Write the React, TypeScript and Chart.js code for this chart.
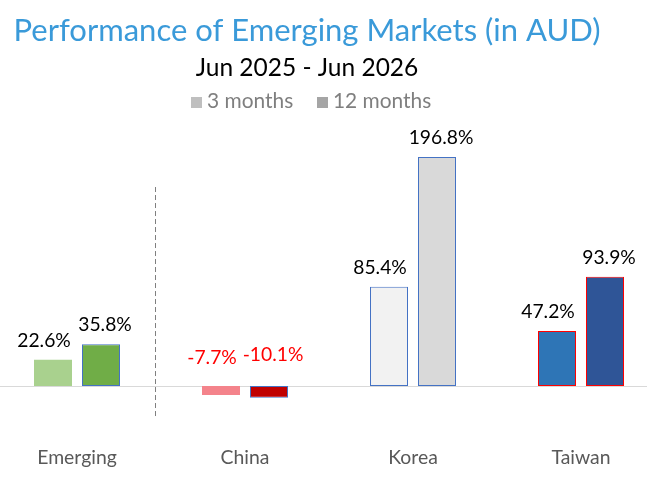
import { useEffect, useRef } from "react";
import { Chart, registerables } from "chart.js";

Chart.register(...registerables);

// Returns over each period, in percent
const categories = ["Emerging", "China", "Korea", "Taiwan"];
const seriesNames = ["3 months", "12 months"];
const threeMonths = [22.6, -7.7, 85.4, 47.2];
const twelveMonths = [35.8, -10.1, 196.8, 93.9];

const chartTitle = "Performance of Emerging Markets (in AUD)";
const chartSubtitle = "Jun 2025 - Jun 2026";

// Per-bar styling
const fill3 = ["#a9d18e", "#f4838b", "#f2f2f2", "#2e75b6"];
const fill12 = ["#70ad47", "#c00000", "#d9d9d9", "#2f5597"];
const edge3 = ["transparent", "transparent", "#4472c4", "#ff0000"];
const edge12 = ["#4472c4", "#4472c4", "#4472c4", "#ff0000"];
const legendSwatches = ["#bfbfbf", "#a5a5a5"];

const FONT = "Lato, 'Open Sans', sans-serif";
// The canvas is a little wider than the page and sits SHIFT px to the left
const SHIFT = 20;
const CANVAS_W = 700;
const CANVAS_H = 492;

const fmt = (v: number) => `${v.toFixed(1)}%`;

const decorations = {
  id: "decorations",
  beforeDatasetsDraw(chart: any) {
    const { ctx } = chart;
    const xs = chart.scales.x;
    const ys = chart.scales.y;
    ctx.save();
    // zero baseline across the whole width
    const y0 = Math.floor(ys.getPixelForValue(0)) + 0.5;
    ctx.strokeStyle = "#d9d9d9";
    ctx.lineWidth = 1;
    ctx.beginPath();
    ctx.moveTo(0, y0);
    ctx.lineTo(CANVAS_W, y0);
    ctx.stroke();
    // dashed divider between the index and the single markets
    const xd = Math.floor(xs.getPixelForValue(0.468)) + 0.5;
    ctx.strokeStyle = "#7f7f7f";
    ctx.setLineDash([5, 3]);
    ctx.beginPath();
    ctx.moveTo(xd, ys.getPixelForValue(171));
    ctx.lineTo(xd, ys.getPixelForValue(-28));
    ctx.stroke();
    ctx.restore();
  },
  afterDatasetsDraw(chart: any) {
    const { ctx } = chart;
    const xs = chart.scales.x;
    const ys = chart.scales.y;
    const zero = ys.getPixelForValue(0);
    ctx.save();

    // headings
    ctx.textAlign = "center";
    ctx.textBaseline = "alphabetic";
    ctx.fillStyle = "#3a9ad9";
    ctx.font = `31px ${FONT}`;
    ctx.fillText(chartTitle, 307 + SHIFT, 41);
    ctx.fillStyle = "#000000";
    ctx.font = `24.5px ${FONT}`;
    ctx.fillText(chartSubtitle, 307 + SHIFT, 76);

    // legend
    ctx.font = `20.9px ${FONT}`;
    ctx.textAlign = "left";
    const legendX = [191, 317];
    seriesNames.forEach((name, i) => {
      const bx = legendX[i] + SHIFT;
      ctx.fillStyle = legendSwatches[i];
      ctx.fillRect(bx, 97, 11, 11);
      ctx.fillStyle = "#7f7f7f";
      ctx.fillText(name, bx + 16, 108);
    });

    // value labels above each bar
    ctx.font = `19.3px ${FONT}`;
    ctx.textAlign = "center";
    const nudge = [-9, 4];
    chart.data.datasets.forEach((ds: any, di: number) => {
      const meta = chart.getDatasetMeta(di);
      meta.data.forEach((bar: any, i: number) => {
        const v = ds.data[i] as number;
        const top = v >= 0 ? bar.y : zero - (bar.y - zero);
        ctx.fillStyle = v < 0 ? "#ff0000" : "#000000";
        ctx.fillText(fmt(v), bar.x + nudge[di], top - 13);
      });
    });

    // category labels
    ctx.font = `19.4px ${FONT}`;
    ctx.fillStyle = "#595959";
    categories.forEach((c, i) => {
      ctx.fillText(c, xs.getPixelForValue(i), 464);
    });
    ctx.restore();
  },
};

export default function App() {
  const ref = useRef<HTMLCanvasElement>(null);

  useEffect(() => {
    const bars = { borderSkipped: false as const, categoryPercentage: 96 / 168, barPercentage: 38 / 48 };
    const chart = new Chart(ref.current!, {
      type: "bar",
      data: {
        labels: categories,
        datasets: [
          {
            label: seriesNames[0],
            data: threeMonths,
            backgroundColor: fill3,
            borderColor: edge3,
            borderWidth: edge3.map((c) => (c === "transparent" ? 0 : 1)),
            ...bars,
          },
          {
            label: seriesNames[1],
            data: twelveMonths,
            backgroundColor: fill12,
            borderColor: edge12,
            borderWidth: 1,
            ...bars,
          },
        ],
      },
      options: {
        responsive: false,
        animation: false,
        devicePixelRatio: 1,
        layout: { padding: { left: 13, right: 15, top: 130, bottom: 492 - 130 - (250 * 256) / 220 } },
        scales: {
          x: { display: false },
          y: { display: false, min: -30, max: 220 },
        },
        plugins: {
          legend: { display: false },
          title: { display: false },
          tooltip: { enabled: false },
        },
      },
      plugins: [decorations],
    });
    return () => chart.destroy();
  }, []);

  return (
    <div
      style={{
        position: "fixed",
        left: 0,
        top: 0,
        width: 647,
        height: 492,
        overflow: "hidden",
        background: "#ffffff",
      }}
    >
      <canvas
        ref={ref}
        width={CANVAS_W}
        height={CANVAS_H}
        style={{ position: "absolute", left: -SHIFT, top: 0 }}
      />
    </div>
  );
}
